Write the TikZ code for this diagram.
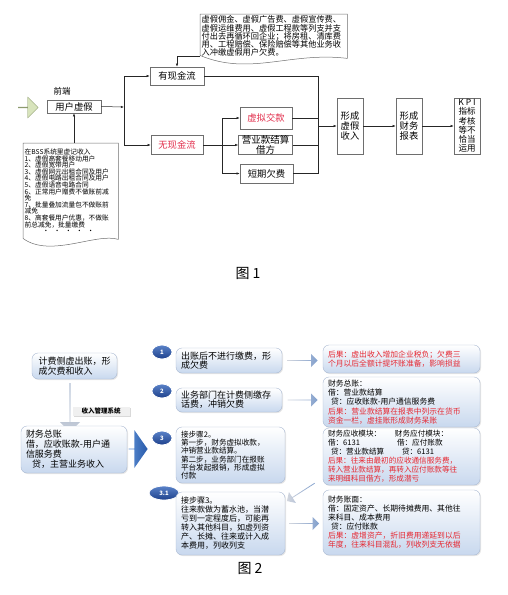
\documentclass[tikz,border=0pt]{standalone}
\usepackage{fontspec}
\setmainfont{Noto Sans CJK SC}
\usetikzlibrary{arrows.meta, positioning, shapes.geometric, shapes.arrows, shadows, calc}
\definecolor{lineGray}{RGB}{110,110,110}
\definecolor{cashRed}{RGB}{225,45,75}
\definecolor{leafGreen}{RGB}{216,228,188}
\definecolor{leafLine}{RGB}{140,155,110}
\definecolor{boxLine}{RGB}{170,185,210}
\definecolor{boxBlue}{RGB}{200,216,238}
\definecolor{badgeTop}{RGB}{90,130,200}
\definecolor{badgeBot}{RGB}{30,65,140}
\definecolor{resRed}{RGB}{230,40,50}
\definecolor{arrowGray}{RGB}{210,214,222}
\definecolor{arrowBlue}{RGB}{130,160,205}
\definecolor{chevLight}{RGB}{90,140,210}
\definecolor{chevDark}{RGB}{40,90,170}

\begin{document}
\begin{tikzpicture}[x=1pt, y=-1pt,
    flowbox/.style={draw=lineGray, line width=0.5pt, inner sep=0pt, align=center,
      font=\fontsize{9.3}{9.6}\selectfont},
    flow/.style={-{Latex[length=3.2pt,width=2.4pt]}, line width=0.5pt, draw=black!85},
    link/.style={line width=0.5pt, draw=black!85},
    doc/.style={draw=lineGray, line width=0.5pt},
    stepbox/.style={draw=boxLine, rounded corners=6pt, top color=white, bottom color=boxBlue,
      align=left, inner xsep=5pt, inner ysep=1pt,
      drop shadow={opacity=0.2, shadow xshift=1pt, shadow yshift=-1pt}},
    badge/.style={ellipse, draw=white, line width=0.8pt, top color=badgeTop, bottom color=badgeBot,
      text=white, font=\fontsize{6}{6}\bfseries\selectfont, minimum width=20pt,
      minimum height=14pt, inner sep=0pt},
    blockarrow/.style={single arrow, minimum width=13pt, minimum height=30pt,
      single arrow head extend=3pt, inner sep=0pt, left color=arrowGray, right color=arrowBlue}
  ]
  \useasboundingbox (0,0) rectangle (507,595);

  % figure 1
  \node[anchor=north west, text width=144pt, inner sep=1.5pt, minimum height=44pt, align=left,
    font=\fontsize{8.2}{8.3}\selectfont] (ad) at (200,14)
    {虚假佣金、虚假广告费、虚假宣传费、\\虚假运维费用、虚假工程款等列支并支\\付出去再循环回企业；将房租、清库费\\用、工程赔偿、保险赔偿等其他业务收\\入冲缴虚假用户欠费。};
  \draw[doc] ([yshift=3pt]ad.south west) -- (ad.north west) -- (ad.north east) -- (ad.south east)
    .. controls +(-57,-7) and +(50,21) .. ([yshift=3pt]ad.south west);

  \node[flowbox, minimum width=54pt, minimum height=18pt] (yes) at (177,76) {有现金流};
  \node[font=\fontsize{8.5}{8.5}\selectfont] (front) at (62,91) {前端};
  \node[single arrow, draw=leafLine, fill=leafGreen, minimum width=21pt, minimum height=20pt,
    single arrow head extend=5pt, inner sep=0pt] (push) at (28,107.5) {};
  \node[flowbox, minimum width=54pt, minimum height=13pt] (user) at (74,106.5) {用户虚假};

  \node[anchor=north west, text width=92pt, inner sep=1.5pt, minimum height=96pt, align=left,
    font=\fontsize{6.7}{6.6}\selectfont] (bss) at (23,143)
    {在BSS系统里虚记收入\\1、虚假高套餐移动用户\\2、虚假宽带用户\\3、虚假网元出租合同及用户\\
     4、虚假电路出租合同及用户\\5、虚假语音电路合同\\6、正常用户赠费不做账前减\\免\\
     7、批量叠加流量包不做账前\\减免\\8、高套餐用户优惠，不做账\\前总减免，批量缴费\\
     \hspace*{18pt}·\ \ ·\ \ ·\ \ ·\ \ ·};
  \draw[doc] ([yshift=1pt]bss.south west) -- (bss.north west) -- (bss.north east) -- (bss.south east)
    .. controls +(-22,-7) and +(27,20) .. ([yshift=1pt]bss.south west);

  \node[flowbox, minimum width=52pt, minimum height=19pt, text=cashRed] (no) at (177,145) {无现金流};
  \node[flowbox, minimum width=52pt, minimum height=22pt, text=cashRed] (fake) at (266,118) {虚拟交款};
  \node[flowbox, minimum width=54pt, minimum height=18pt, font=\fontsize{9.5}{8.6}\selectfont]
    (settle) at (265.5,145) {营业款结算\\借方};
  \node[flowbox, minimum width=53pt, minimum height=19pt] (owe) at (266.5,173.5) {短期欠费};
  \node[flowbox, minimum width=26pt, minimum height=56pt] (income) at (350,126) {形成\\虚假\\收入};
  \node[flowbox, minimum width=26pt, minimum height=56pt] (report) at (409,126) {形成\\财务\\报表};
  \node[flowbox, minimum width=26pt, minimum height=56pt, font=\fontsize{8.5}{9.2}\selectfont]
    (kpi) at (467,126) {K P I\\指标\\考核\\等不\\恰当\\运用};

  \coordinate (forkA) at (124,107);
  \coordinate (forkB) at (222,145);
  \coordinate (joinC) at (318,126);
  \draw[flow] ([yshift=2pt]ad.south west) -| (yes.north);
  \draw[flow] (bss.north -| user.south) -- (user.south);
  \draw[flow] (user.east) -- (forkA);
  \draw[flow] (forkA) |- (yes.west);
  \draw[flow] (forkA) |- (no.west);
  \draw[link] (no.east) -- (forkB);
  \draw[flow] (forkB) |- (fake.west);
  \draw[flow] (forkB) -- (settle.west);
  \draw[flow] (forkB) |- (owe.west);
  \draw[link] (yes.east) -| (joinC);
  \draw[link] (fake.east) -| (joinC);
  \draw[link] (settle.east) -| (joinC);
  \draw[link] (owe.east) -| (joinC);
  \draw[flow] (joinC) -- (income.west);
  \draw[flow] (income) -- (report);
  \draw[flow] (report) -- (kpi);

  \node[font=\fontsize{14}{14}\selectfont] (capA) at (248,273) {图 1};

  % figure 2
  \node[stepbox, text width=72pt, inner xsep=6.5pt, minimum height=26pt,
    font=\fontsize{9}{10}\selectfont] (bill) at (74.5,366) {计费侧虚出账，形\\成欠费和收入};
  \node[single arrow, rotate=-90, minimum width=20pt, minimum height=49pt,
    single arrow head extend=6pt, inner sep=0pt, top color=arrowBlue!85!black,
    bottom color=arrowGray] (down) at (70,407.5) {};
  \node[stepbox, text width=96pt, minimum height=47pt, font=\fontsize{9}{10}\selectfont]
    (ledger) at (74,449.5) {财务总账\\借，应收账款-用户通\\信服务费\\\hspace*{6pt}贷，主营业务收入};
  \node[font=\fontsize{6.5}{6.5}\bfseries\selectfont, fill=gray!12, inner sep=1.5pt,
    minimum width=57pt, drop shadow={opacity=0.3, shadow xshift=1pt, shadow yshift=-1pt}]
    (sys) at (101,411.5) {收入管理系统};
  \node[single arrow, minimum width=38pt, minimum height=19pt, single arrow head extend=11pt,
    single arrow tip angle=110, inner sep=0pt, left color=chevLight, right color=chevDark]
    (turn) at (138,449) {};

  \node[badge] (n1) at (162,352) {1};
  \node[badge] (n2) at (162,391) {2};
  \node[badge] (n3) at (162,438) {3};
  \node[badge, minimum width=30pt] (n31) at (164,493) {3.1};

  \node[stepbox, text width=96pt, minimum height=25pt, font=\fontsize{9}{8.8}\selectfont]
    (s1) at (229,360.5) {出账后不进行缴费，形\\成欠费};
  \node[stepbox, text width=96pt, minimum height=24pt, font=\fontsize{9}{8.8}\selectfont]
    (s2) at (229,400) {业务部门在计费侧缴存\\话费，冲销欠费};
  \node[stepbox, text width=99pt, minimum height=56pt, font=\fontsize{7.6}{8.3}\selectfont]
    (s3) at (230.5,455) {接步骤2。\\第一步，财务虚拟收款，\\冲销营业款结算。\\第二步，业务部门在报账\\平台发起报销，形成虚拟\\付款};
  \node[stepbox, text width=99pt, minimum height=63pt, font=\fontsize{8}{9}\selectfont]
    (s31) at (230.5,523.5) {接步骤3。\\往来款做为蓄水池，当潜\\亏到一定程度后，可能再\\转入其他科目，如虚列资\\产、长摊、往来或计入成\\本费用，列收列支};

  \node[stepbox, text width=147pt, minimum height=28pt, text=resRed, font=\fontsize{7.8}{9}\selectfont]
    (r1) at (401.5,359) {后果：虚出收入增加企业税负；欠费三\\个月以后全额计提坏账准备，影响损益};
  \node[stepbox, text width=147pt, minimum height=50pt, font=\fontsize{7.8}{9.2}\selectfont]
    (r2) at (401.5,402) {财务总账：\\借：营业款结算\\\hspace*{3pt}贷：应收账款-用户通信服务费\\
     \color{resRed}后果：营业款结算在报表中列示在货币\\资金一栏，虚挂账形成财务呆账};
  \node[stepbox, text width=147pt, minimum height=57pt, font=\fontsize{7.6}{9}\selectfont]
    (r3) at (401.5,456.5) {\makebox[67pt][l]{财务应收模块：}财务应付模块：\\
     \makebox[69pt][l]{借：6131}借：应付账款\\
     \makebox[74pt][l]{\hspace*{3pt}贷：营业款结算}贷：6131\\
     \color{resRed}后果：往来由最初的应收通信服务费，\\转入营业款结算，再转入应付账款等往\\来明细科目借方，形成潜亏};
  \node[stepbox, text width=147pt, minimum height=65pt, font=\fontsize{7.8}{9}\selectfont]
    (r4) at (401.5,522.5) {财务账面：\\借：固定资产、长期待摊费用、其他往\\来科目、成本费用\\\hspace*{3pt}贷：应付账款\\
     \color{resRed}后果：虚增资产，折旧费用递延到以后\\年度，往来科目混乱，列收列支无依据};

  \node[blockarrow] (g1) at ($(s1.east)!0.5!(s1.east -| r1.west)$) {};
  \node[blockarrow] (g2) at ($(s2.east)!0.5!(s2.east -| r2.west)$) {};
  \node[blockarrow, rotate=212.7, minimum height=33pt] (g3) at (301,492) {};
  \node[blockarrow] (g4) at ($(s31.east)!0.5!(s31.east -| r4.west)$) {};

  \node[font=\fontsize{14}{14}\selectfont] (capB) at (250,568) {图 2};
\end{tikzpicture}
\end{document}
